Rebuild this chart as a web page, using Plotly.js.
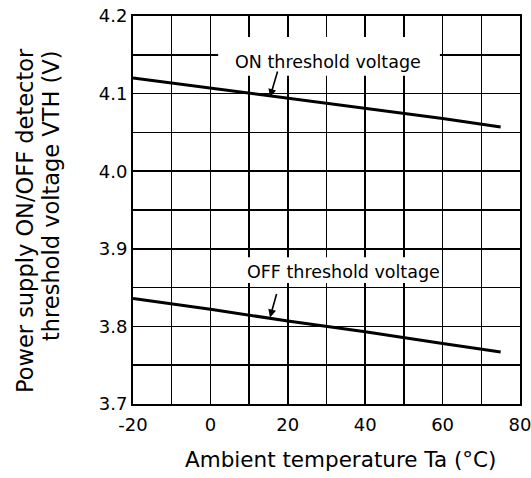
<!DOCTYPE html>
<html>
<head>
<meta charset="utf-8">
<script src="https://cdn.plot.ly/plotly-3.0.1.min.js"></script>
<style>html,body{margin:0;padding:0;background:#fff;}#chart{width:531px;height:478px;}</style>
</head>
<body>
<div id="chart"></div>
<script>
// Data
const temperature = [-20, 0, 20, 40, 60, 75];
const onThreshold = [4.120, 4.107, 4.094, 4.081, 4.068, 4.057];
const offThreshold = [3.836, 3.822, 3.807, 3.793, 3.778, 3.767];

const xTickVals = [-20, -10, 0, 10, 20, 30, 40, 50, 60, 70, 80];
const xTickText = ['-20', '', '0', '', '20', '', '40', '', '60', '', '80'];
const yTickVals = [3.7, 3.75, 3.8, 3.85, 3.9, 3.95, 4.0, 4.05, 4.1, 4.15, 4.2];
const yTickText = ['3.7', '', '3.8', '', '3.9', '', '4.0', '', '4.1', '', '4.2'];

const xTitle = 'Ambient temperature Ta (°C)';
const yTitleLine1 = 'Power supply ON/OFF detector';
const yTitleLine2 = 'threshold voltage VTH (V)';
const onLabel = 'ON threshold voltage';
const offLabel = 'OFF threshold voltage';

const FONT = 'DejaVu Sans, Arial, sans-serif';

const traces = [
  {x: temperature, y: onThreshold, mode: 'lines', line: {color: '#000', width: 3}, hoverinfo: 'skip'},
  {x: temperature, y: offThreshold, mode: 'lines', line: {color: '#000', width: 3}, hoverinfo: 'skip'}
];

const layout = {
  width: 531, height: 478,
  margin: {l: 133, r: 11, t: 16, b: 74},
  paper_bgcolor: '#fff', plot_bgcolor: '#fff',
  showlegend: false,
  font: {family: FONT, color: '#000', size: 18},
  xaxis: {
    range: [-20, 80], tickmode: 'array', tickvals: xTickVals, ticktext: xTickText,
    showgrid: true, gridcolor: '#000', gridwidth: 1.5,
    showline: true, linecolor: '#000', linewidth: 2, mirror: true,
    ticks: '', ticklabelstandoff: 3, ticklabeloverflow: 'allow', zeroline: false,
    tickfont: {family: FONT, size: 18, color: '#000'}
  },
  yaxis: {
    range: [3.7, 4.2], tickmode: 'array', tickvals: yTickVals, ticktext: yTickText,
    showgrid: true, gridcolor: '#000', gridwidth: 1.5,
    showline: true, linecolor: '#000', linewidth: 2, mirror: true,
    ticks: '', ticklabelstandoff: 0, ticklabeloverflow: 'allow', zeroline: false,
    tickfont: {family: FONT, size: 18, color: '#000'}
  },
  shapes: [
    {type: 'rect', xref: 'x', yref: 'y', x0: 2.0, x1: 59.3, y0: 4.123, y1: 4.173,
     fillcolor: '#fff', line: {width: 0}, layer: 'above'},
    {type: 'rect', xref: 'x', yref: 'y', x0: 8.4, x1: 59.6, y0: 3.856, y1: 3.889,
     fillcolor: '#fff', line: {width: 0}, layer: 'above'}
  ],
  annotations: [
    {xref: 'x', yref: 'y', x: 30.4, y: 4.1407, text: onLabel, showarrow: false,
     font: {family: FONT, size: 17.5, color: '#000'}, xanchor: 'center', yanchor: 'middle'},
    {xref: 'x', yref: 'y', x: 34.5, y: 3.870, text: offLabel, showarrow: false,
     font: {family: FONT, size: 17.5, color: '#000'}, xanchor: 'center', yanchor: 'middle'},
    {xref: 'x', yref: 'y', x: 15.4, y: 4.0955, text: '', showarrow: true,
     ax: 8, ay: -27, arrowhead: 2, arrowsize: 1, arrowwidth: 1.6, arrowcolor: '#000'},
    {xref: 'x', yref: 'y', x: 15.4, y: 3.8115, text: '', showarrow: true,
     ax: 7, ay: -25, arrowhead: 2, arrowsize: 1, arrowwidth: 1.6, arrowcolor: '#000'},
    {xref: 'paper', yref: 'paper', x: 0.5375, y: -0.1443, text: xTitle, showarrow: false,
     font: {family: FONT, size: 21.5, color: '#000'}, xanchor: 'center', yanchor: 'middle'},
    {xref: 'paper', yref: 'paper', x: -0.279, y: 0.4716, text: yTitleLine1, showarrow: false,
     textangle: -90, font: {family: FONT, size: 22.5, color: '#000'}, xanchor: 'center', yanchor: 'middle'},
    {xref: 'paper', yref: 'paper', x: -0.2119, y: 0.5387, text: yTitleLine2, showarrow: false,
     textangle: -90, font: {family: FONT, size: 22.5, color: '#000'}, xanchor: 'center', yanchor: 'middle'}
  ]
};

Plotly.newPlot('chart', traces, layout, {staticPlot: true, displayModeBar: false});
</script>
</body>
</html>
